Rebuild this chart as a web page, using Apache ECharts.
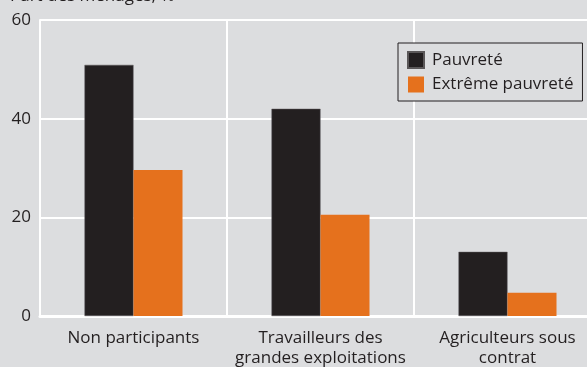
<!DOCTYPE html>
<html>
<head>
<meta charset="utf-8">
<script src="https://cdn.jsdelivr.net/npm/echarts@6/dist/echarts.min.js"></script>
<style>
  html, body { margin: 0; padding: 0; background: #dcdddf; overflow: hidden; }
  #chart { width: 601px; height: 367px; }
</style>
</head>
<body>
<div id="chart"></div>
<script>
const categories = ['Non participants', 'Travailleurs des\ngrandes exploitations', 'Agriculteurs sous\ncontrat']
const pauvrete = [50.9, 42.0, 13.0]
const extremePauvrete = [29.6, 20.5, 4.7]
const yTicks = [0, 20, 40, 60]

const FONT = '"Open Sans", sans-serif'
const TEXT = '#231f20'

const chart = echarts.init(document.getElementById('chart'))

chart.setOption({
  backgroundColor: '#dcdddf',
  animation: false,
  title: {
    text: 'Part des ménages, %',
    left: 10,
    top: -12,
    padding: 0,
    textStyle: { color: TEXT, fontSize: 17, fontWeight: 'normal', fontFamily: FONT }
  },
  legend: {
    orient: 'vertical',
    left: 398,
    top: 43,
    padding: [8, 9, 8, 9],
    itemWidth: 16,
    itemHeight: 16,
    itemGap: 7,
    icon: 'rect',
    backgroundColor: '#dcdddf',
    borderColor: TEXT,
    borderWidth: 1,
    borderRadius: 0,
    textStyle: { color: TEXT, fontSize: 17, fontFamily: FONT, padding: [0, 0, 0, 3] },
    data: ['Pauvreté', 'Extrême pauvreté']
  },
  // the plot runs a little past the right edge of the picture
  grid: { left: 40, right: 0, top: 20, bottom: 51, containLabel: false, outerBoundsMode: 'none' },
  xAxis: {
    type: 'category',
    data: categories,
    axisLine: { show: true, lineStyle: { color: '#ffffff', width: 3 } },
    axisTick: { show: false },
    splitLine: { show: true, lineStyle: { color: '#ffffff', width: 2 } },
    axisLabel: { color: TEXT, fontSize: 17, fontFamily: FONT, margin: 12, lineHeight: 20, interval: 0 }
  },
  yAxis: {
    type: 'value',
    min: yTicks[0],
    max: yTicks[yTicks.length - 1],
    interval: 20,
    axisLine: { show: true, lineStyle: { color: '#ffffff', width: 2 } },
    axisTick: { show: false },
    splitLine: { show: true, lineStyle: { color: '#ffffff', width: 2 } },
    axisLabel: { color: TEXT, fontSize: 17, fontFamily: FONT, margin: 9 }
  },
  series: [
    {
      name: 'Pauvreté',
      type: 'bar',
      data: pauvrete,
      barWidth: 49,
      barGap: '0%',
      itemStyle: { color: '#231f20', borderColor: '#5a5758', borderWidth: 0.5 }
    },
    {
      name: 'Extrême pauvreté',
      type: 'bar',
      data: extremePauvrete,
      barWidth: 49,
      barGap: '0%',
      itemStyle: { color: '#e5711d' }
    }
  ]
})
</script>
</body>
</html>
